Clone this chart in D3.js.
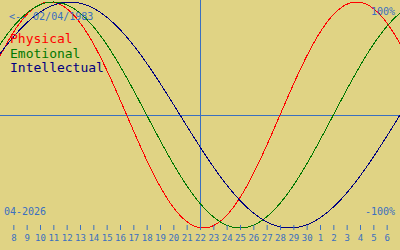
<!DOCTYPE html>
<html>
<head>
<meta charset="utf-8">
<script src="https://cdn.jsdelivr.net/npm/d3@7"></script>
<style>
  html, body { margin: 0; padding: 0; background: #e0d384; }
  svg { display: block; }
  text { font-family: "DejaVu Sans Mono", monospace; }
</style>
</head>
<body>
<div id="chart"></div>
<script>
// biorhythm cycles
const cycleNames = ['Physical', 'Emotional', 'Intellectual'];
const cyclePeriods = [23, 28, 33];
const cycleColors = ['#ff0000', '#007800', '#000080'];

const birthDate = new Date(1983, 3, 2);   // 02/04/1983
const today = new Date(2026, 3, 22);
const dayOffsets = d3.range(-14, 15);      // ticks either side of today
const dayLabels = ['8', '9', '10', '11', '12', '13', '14', '15', '16', '17', '18', '19', '20', '21',
  '22', '23', '24', '25', '26', '27', '28', '29', '30', '1', '2', '3', '4', '5', '6'];

const width = 400, height = 250;
const axisBlue = '#3a6fc0';

const svg = d3.select('#chart').append('svg')
  .attr('width', width)
  .attr('height', height);

svg.append('rect').attr('width', width).attr('height', height).attr('fill', '#e0d384');

const x = d3.scaleLinear().domain([-15, 15]).range([0, width]);
const y = d3.scaleLinear().domain([-1, 1]).range([228, 2]);

const daysLived = d3.timeDay.count(birthDate, today);

// zero line + today line
svg.append('line')
  .attr('x1', 0).attr('x2', width)
  .attr('y1', y(0) + 0.5).attr('y2', y(0) + 0.5)
  .attr('stroke', axisBlue);
svg.append('line')
  .attr('x1', x(0) + 0.5).attr('x2', x(0) + 0.5)
  .attr('y1', 0).attr('y2', 230)
  .attr('stroke', axisBlue);

// curves
const samples = d3.range(-15, 15.01, 0.1);
cyclePeriods.forEach((p, i) => {
  const line = d3.line()
    .x(d => x(d))
    .y(d => y(Math.sin(2 * Math.PI * (daysLived + d) / p)))
    .curve(d3.curveLinear);
  svg.append('path')
    .datum(samples)
    .attr('d', line)
    .attr('fill', 'none')
    .attr('stroke', cycleColors[i])
    .attr('stroke-width', 1)
    .attr('shape-rendering', 'crispEdges');
});

// day axis
const axis = d3.axisBottom(x)
  .tickValues(dayOffsets)
  .tickFormat((d, i) => dayLabels[i])
  .tickSize(5)
  .tickPadding(5);

const ax = svg.append('g')
  .attr('transform', 'translate(0,225)')
  .call(axis);
ax.select('.domain').remove();
ax.selectAll('line').attr('stroke', axisBlue);
ax.selectAll('text')
  .attr('fill', axisBlue)
  .style('font-family', '"DejaVu Sans Mono", monospace')
  .style('font-size', '9px');

// labels
svg.append('text')
  .attr('x', 9).attr('y', 20)
  .attr('fill', axisBlue)
  .style('font-size', '10px')
  .text('<-- ' + d3.timeFormat('%d/%m/%Y')(birthDate));

svg.append('text')
  .attr('x', 395).attr('y', 15)
  .attr('text-anchor', 'end')
  .attr('fill', axisBlue)
  .style('font-size', '10px')
  .text('100%');

svg.append('text')
  .attr('x', 395).attr('y', 215)
  .attr('text-anchor', 'end')
  .attr('fill', axisBlue)
  .style('font-size', '10px')
  .text('-100%');

svg.append('text')
  .attr('x', 4).attr('y', 215)
  .attr('fill', axisBlue)
  .style('font-size', '10px')
  .text(d3.timeFormat('%m-%Y')(today));

// legend
cycleNames.forEach((name, i) => {
  svg.append('text')
    .attr('x', 10).attr('y', 43 + i * 14.5)
    .attr('fill', cycleColors[i])
    .style('font-size', '13px')
    .text(name);
});
</script>
</body>
</html>
